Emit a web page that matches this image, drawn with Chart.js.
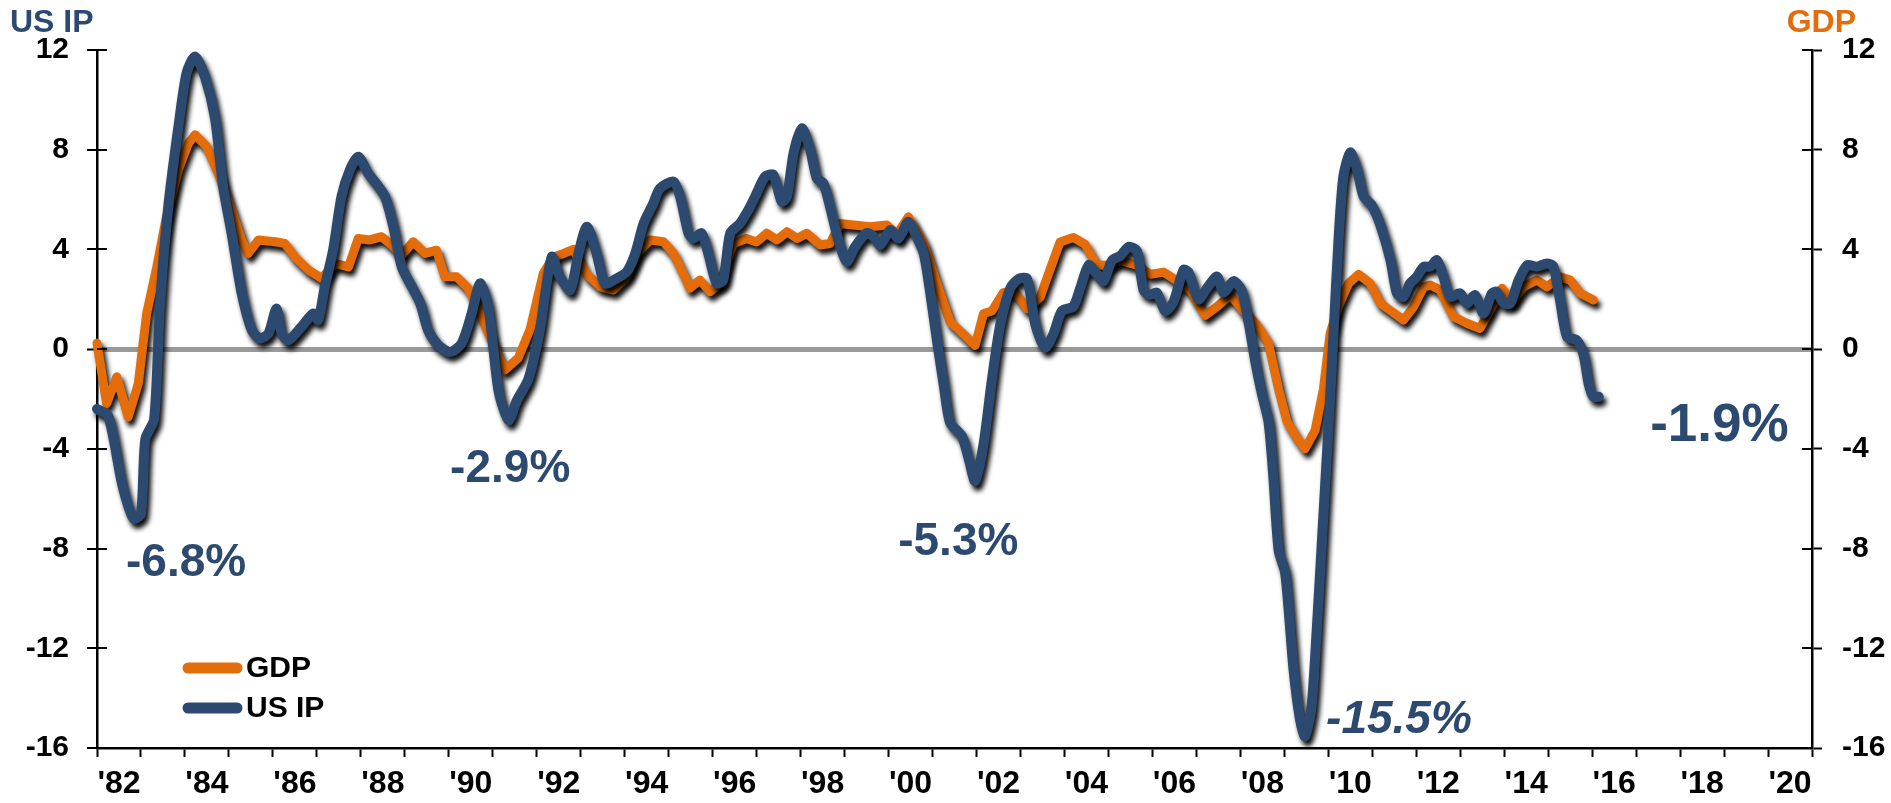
<!DOCTYPE html>
<html>
<head>
<meta charset="utf-8">
<script src="https://cdn.jsdelivr.net/npm/chart.js@4.4.1/dist/chart.umd.min.js"></script>
<style>
  html, body { margin: 0; padding: 0; background: #fff; }
  canvas { display: block; }
</style>
</head>
<body>
<canvas id="chart" width="1891" height="803"></canvas>
<script>
// US industrial production, y/y %
const ipYears = [
  1982.00, 1982.26, 1982.57, 1982.83, 1983.00, 1983.10, 1983.30, 1983.43, 1983.62, 1983.85,
  1984.04, 1984.23, 1984.46, 1984.68, 1984.87, 1985.06, 1985.29, 1985.52, 1985.71, 1985.90,
  1986.08, 1986.20, 1986.35, 1986.65, 1986.92, 1987.03, 1987.18, 1987.37, 1987.56, 1987.75,
  1987.94, 1988.17, 1988.40, 1988.55, 1988.74, 1988.93, 1989.16, 1989.35, 1989.53, 1989.76,
  1990.03, 1990.29, 1990.52, 1990.71, 1990.90, 1991.13, 1991.36, 1991.55, 1991.81, 1992.07,
  1992.34, 1992.53, 1992.76, 1992.95, 1993.14, 1993.36, 1993.55, 1993.82, 1994.05, 1994.24,
  1994.43, 1994.65, 1994.80, 1995.11, 1995.26, 1995.45, 1995.56, 1995.75, 1995.90, 1996.09,
  1996.24, 1996.40, 1996.62, 1996.85, 1997.00, 1997.19, 1997.38, 1997.57, 1997.69, 1997.84,
  1998.03, 1998.22, 1998.37, 1998.52, 1998.67, 1998.86, 1999.05, 1999.24, 1999.50, 1999.66,
  1999.81, 2000.04, 2000.23, 2000.45, 2000.64, 2000.80, 2000.95, 2001.10, 2001.25, 2001.40,
  2001.67, 2001.82, 2001.97, 2002.16, 2002.35, 2002.54, 2002.77, 2002.96, 2003.15, 2003.34,
  2003.56, 2003.75, 2003.94, 2004.20, 2004.36, 2004.55, 2004.74, 2004.89, 2005.08, 2005.27,
  2005.46, 2005.65, 2005.80, 2005.95, 2006.10, 2006.29, 2006.48, 2006.71, 2006.82, 2007.05,
  2007.24, 2007.47, 2007.62, 2007.84, 2008.03, 2008.18, 2008.34, 2008.49, 2008.64, 2008.75,
  2008.87, 2009.02, 2009.21, 2009.36, 2009.47, 2009.62, 2009.74, 2009.85, 2010.00, 2010.12,
  2010.23, 2010.34, 2010.50, 2010.65, 2010.80, 2010.99, 2011.18, 2011.41, 2011.56, 2011.71,
  2011.86, 2012.01, 2012.17, 2012.32, 2012.47, 2012.62, 2012.77, 2013.00, 2013.15, 2013.34,
  2013.53, 2013.72, 2013.83, 2013.99, 2014.14, 2014.33, 2014.52, 2014.74, 2014.97, 2015.12,
  2015.27, 2015.43, 2015.65, 2015.80, 2015.92, 2016.03, 2016.15
];
const ipValues = [
  -2.4, -2.7, -5.4, -6.8, -6.6, -3.6, -2.8, 1.7, 5.7, 8.9,
  11.1, 11.74, 10.9, 9.3, 6.5, 4.65, 2.24, 0.76, 0.43, 0.63,
  1.63, 0.63, 0.36, 0.9, 1.43, 1.17, 2.5, 3.98, 6.12, 7.19,
  7.72, 7.05, 6.52, 6.12, 4.91, 3.3, 2.5, 1.84, 0.76, 0.16,
  -0.11, 0.23, 1.43, 2.64, 1.7, -1.65, -2.85, -2.05, -1.2, 0.76,
  3.7, 2.9, 2.37, 3.84, 4.91, 3.84, 2.64, 2.84, 3.11, 3.84,
  5.04, 5.85, 6.45, 6.72, 6.12, 4.65, 4.44, 4.65, 3.84, 2.64,
  2.77, 4.65, 5.04, 5.71, 6.25, 6.92, 6.99, 5.92, 6.12, 7.86,
  8.86, 7.99, 6.85, 6.65, 5.71, 4.38, 3.51, 4.11, 4.65, 4.51,
  4.18, 4.78, 4.44, 5.11, 4.51, 3.84, 2.24, 0.36, -1.38, -2.95,
  -3.5, -4.37, -5.29, -3.82, -1.24, 0.98, 2.45, 2.82, 2.82, 0.98,
  0.06, 0.61, 1.53, 1.71, 2.45, 3.37, 3.0, 2.73, 3.56, 3.74,
  4.11, 3.93, 2.36, 2.18, 2.27, 1.53, 1.9, 3.18, 3.09, 2.0,
  2.45, 2.91, 2.27, 2.73, 2.36, 1.16, -0.5, -1.79, -2.9, -5.11,
  -8.06, -8.98, -12.85, -14.88, -15.53, -14.33, -11.19, -7.87, -3.26, 0.61,
  4.3, 6.88, 7.89, 7.24, 6.14, 5.77, 5.0, 3.6, 2.24, 2.1,
  2.64, 2.9, 3.31, 3.31, 3.57, 2.9, 2.1, 2.24, 1.84, 2.17,
  1.43, 2.24, 2.3, 1.84, 1.84, 2.77, 3.37, 3.31, 3.44, 3.31,
  1.97, 0.49, 0.36, -0.18, -1.38, -1.91, -1.91
];

// US GDP, y/y %
const gdpYears = [
  1982.00, 1982.22, 1982.45, 1982.71, 1982.94, 1983.13, 1983.36, 1983.58, 1983.85, 1984.08,
  1984.23, 1984.49, 1984.76, 1985.06, 1985.29, 1985.44, 1985.67, 1986.05, 1986.27, 1986.50,
  1986.81, 1987.11, 1987.41, 1987.72, 1987.94, 1988.20, 1988.47, 1988.70, 1988.93, 1989.19,
  1989.46, 1989.72, 1989.91, 1990.18, 1990.44, 1990.67, 1990.97, 1991.27, 1991.58, 1991.85,
  1992.05, 1992.15, 1992.38, 1992.61, 1992.83, 1993.14, 1993.45, 1993.74, 1994.05, 1994.28,
  1994.58, 1994.88, 1995.11, 1995.33, 1995.48, 1995.71, 1995.94, 1996.17, 1996.47, 1996.77,
  1997.00, 1997.23, 1997.46, 1997.69, 1997.92, 1998.14, 1998.44, 1998.67, 1998.90, 1999.20,
  1999.58, 1999.96, 2000.19, 2000.45, 2000.80, 2001.10, 2001.40, 2001.70, 2001.97, 2002.16,
  2002.35, 2002.61, 2002.84, 2003.15, 2003.45, 2003.67, 2003.90, 2004.20, 2004.47, 2004.74,
  2004.96, 2005.27, 2005.65, 2005.95, 2006.25, 2006.56, 2006.86, 2007.20, 2007.47, 2007.77,
  2008.07, 2008.37, 2008.64, 2008.87, 2009.06, 2009.28, 2009.47, 2009.70, 2009.89, 2010.04,
  2010.23, 2010.46, 2010.69, 2010.95, 2011.18, 2011.41, 2011.71, 2011.94, 2012.17, 2012.32,
  2012.54, 2012.85, 2013.15, 2013.45, 2013.68, 2013.95, 2014.18, 2014.44, 2014.74, 2014.97,
  2015.27, 2015.50, 2015.73, 2016.03
];
const gdpValues = [
  0.24, -2.18, -1.11, -2.72, -1.38, 1.43, 3.3, 5.31, 7.19, 8.26,
  8.6, 8.13, 7.05, 5.58, 4.38, 3.84, 4.38, 4.31, 4.24, 3.7,
  3.17, 2.84, 3.44, 3.3, 4.44, 4.38, 4.51, 4.18, 3.77, 4.31,
  3.84, 3.97, 2.9, 2.9, 2.44, 1.57, 0.36, -0.84, -0.35, 0.8,
  2.3, 3.04, 3.7, 3.84, 4.0, 3.0, 2.5, 2.37, 2.9, 3.84,
  4.38, 4.31, 3.84, 3.04, 2.44, 2.77, 2.3, 2.64, 4.24, 4.44,
  4.3, 4.65, 4.38, 4.71, 4.44, 4.65, 4.18, 4.24, 5.04, 4.98,
  4.91, 4.98, 4.58, 5.31, 4.24, 2.64, 1.1, 0.61, 0.15, 1.43,
  1.53, 2.27, 2.36, 1.62, 2.09, 3.18, 4.3, 4.48, 4.2, 3.37,
  3.37, 3.56, 3.37, 3.0, 3.09, 2.73, 2.36, 1.35, 1.71, 2.18,
  1.53, 0.98, 0.24, -1.6, -2.9, -3.54, -4.0, -3.26, -1.6, 0.61,
  1.71, 2.64, 3.0, 2.64, 1.85, 1.55, 1.17, 1.7, 2.5, 2.57,
  2.37, 1.3, 1.04, 0.83, 1.57, 2.44, 1.9, 2.5, 2.77, 2.5,
  2.9, 2.77, 2.24, 1.97
];

const yearTicks = [];
for (let y = 1982; y <= 2021; y++) yearTicks.push(y);
const labelYears = [1982, 1984, 1986, 1988, 1990, 1992, 1994, 1996, 1998, 2000,
  2002, 2004, 2006, 2008, 2010, 2012, 2014, 2016, 2018, 2020];
const yearLabels = ["'82", "'84", "'86", "'88", "'90", "'92", "'94", "'96", "'98", "'00",
  "'02", "'04", "'06", "'08", "'10", "'12", "'14", "'16", "'18", "'20"];
const valueTicks = [-16, -12, -8, -4, 0, 4, 8, 12];

// callouts: text, left edge (year), baseline (value)
const calloutText = ['-6.8%', '-2.9%', '-5.3%', '-15.5%', '-1.9%'];
const calloutYear = [1982.66, 1990.03, 2000.22, 2009.95, 2017.32];
const calloutValue = [-9.12, -5.34, -8.27, -15.38, -3.69];

const NAVY = '#2C4A6F';
const ORANGE = '#E46C0A';
const FONT = '"Liberation Sans", Arial, sans-serif';

function toPoints(xs, ys) {
  return xs.map((x, i) => ({ x: x, y: ys[i] }));
}

// black drop shadow under the lines
const shadowPlugin = {
  id: 'shadow',
  beforeDatasetDraw(chart) {
    const ctx = chart.ctx;
    ctx.save();
    ctx.shadowColor = 'rgba(0,0,0,0.95)';
    ctx.shadowBlur = 5;
    ctx.shadowOffsetX = 3;
    ctx.shadowOffsetY = 5;
  },
  afterDatasetDraw(chart) {
    chart.ctx.restore();
  }
};

// value-axis ticks also poke into the plot a little
const innerTicks = {
  id: 'innerTicks',
  afterDraw(chart) {
    const ctx = chart.ctx;
    const ys = chart.scales.y;
    const area = chart.chartArea;
    ctx.save();
    ctx.strokeStyle = '#000';
    ctx.lineWidth = 2;
    valueTicks.forEach(v => {
      if (v === -16) return;
      const py = Math.round(ys.getPixelForValue(v));
      ctx.beginPath();
      ctx.moveTo(area.left, py);
      ctx.lineTo(area.left + 10, py);
      ctx.moveTo(area.right - 10, py);
      ctx.lineTo(area.right, py);
      ctx.stroke();
    });
    ctx.restore();
  }
};

const textPlugin = {
  id: 'texts',
  afterDraw(chart) {
    const ctx = chart.ctx;
    const xs = chart.scales.x, ys = chart.scales.y;
    ctx.save();
    // axis titles
    ctx.textBaseline = 'alphabetic';
    ctx.font = 'bold 32px ' + FONT;
    ctx.fillStyle = NAVY;
    ctx.textAlign = 'left';
    ctx.fillText('US IP', 10, 32);
    ctx.fillStyle = ORANGE;
    ctx.textAlign = 'right';
    ctx.fillText('GDP', 1856, 32);

    // callouts
    ctx.fillStyle = NAVY;
    ctx.textAlign = 'left';
    calloutText.forEach((t, i) => {
      const size = t === '-1.9%' ? 53 : 46;
      const style = t === '-15.5%' ? 'italic bold ' : 'bold ';
      ctx.font = style + size + 'px ' + FONT;
      ctx.fillText(t, xs.getPixelForValue(calloutYear[i]), ys.getPixelForValue(calloutValue[i]));
    });

    // legend
    const area = chart.chartArea;
    const items = [chart.data.datasets[1], chart.data.datasets[0]];
    ctx.font = 'bold 30px ' + FONT;
    ctx.textBaseline = 'middle';
    items.forEach((ds, i) => {
      const y = area.bottom - 80 + i * 40;
      ctx.strokeStyle = ds.borderColor;
      ctx.lineWidth = 11;
      ctx.lineCap = 'round';
      ctx.beginPath();
      ctx.moveTo(area.left + 91, y);
      ctx.lineTo(area.left + 140, y);
      ctx.stroke();
      ctx.fillStyle = '#000';
      ctx.fillText(ds.label, area.left + 149, y + 1);
    });
    ctx.restore();
  }
};

const tickFont = { family: FONT, size: 30, weight: 'bold' };

new Chart(document.getElementById('chart'), {
  type: 'line',
  data: {
    datasets: [
      {
        label: 'US IP',
        data: toPoints(ipYears, ipValues),
        borderColor: NAVY,
        borderWidth: 10,
        tension: 0.25,
        yAxisID: 'y',
        order: 0
      },
      {
        label: 'GDP',
        data: toPoints(gdpYears, gdpValues),
        borderColor: ORANGE,
        borderWidth: 9,
        tension: 0,
        yAxisID: 'y2',
        order: 1
      }
    ]
  },
  options: {
    responsive: false,
    animation: false,
    devicePixelRatio: 1,
    clip: false,
    layout: { padding: { top: 50, left: 0, right: 0, bottom: 0 } },
    elements: {
      point: { radius: 0 },
      line: { borderCapStyle: 'round', borderJoinStyle: 'round', fill: false }
    },
    plugins: {
      legend: { display: false },
      tooltip: { enabled: false }
    },
    scales: {
      x: {
        type: 'linear',
        min: 1982,
        max: 2021,
        afterBuildTicks: (s) => { s.ticks = yearTicks.map(v => ({ value: v })); },
        afterFit: (s) => { s.height = 55; },
        border: { display: true, color: '#000', width: 2.5 },
        grid: { drawOnChartArea: false, drawTicks: true, tickLength: 9, tickColor: '#000', tickWidth: 2 },
        ticks: {
          autoSkip: false,
          maxRotation: 0,
          labelOffset: 22,
          padding: 8,
          color: '#000',
          font: { family: FONT, size: 32, weight: 'bold' },
          callback: (v) => {
            const i = labelYears.indexOf(v);
            return i >= 0 ? yearLabels[i] : '';
          }
        }
      },
      y: {
        position: 'left',
        min: -16,
        max: 12,
        afterBuildTicks: (s) => { s.ticks = valueTicks.map(v => ({ value: v })); },
        afterFit: (s) => { s.width = 97; },
        border: { display: true, color: '#000', width: 2.5 },
        grid: {
          drawOnChartArea: true,
          color: (c) => (c.tick && c.tick.value === 0 ? '#999999' : 'rgba(0,0,0,0)'),
          lineWidth: (c) => (c.tick && c.tick.value === 0 ? 5 : 0),
          tickLength: 10,
          tickColor: '#000',
          tickWidth: 2
        },
        ticks: { padding: 18, color: '#000', font: tickFont }
      },
      y2: {
        position: 'right',
        min: -16,
        max: 12,
        afterBuildTicks: (s) => { s.ticks = valueTicks.map(v => ({ value: v })); },
        afterFit: (s) => { s.width = 79; },
        border: { display: true, color: '#000', width: 2.5 },
        grid: { drawOnChartArea: false, tickLength: 10, tickColor: '#000', tickWidth: 2 },
        ticks: { padding: 20, color: '#000', font: tickFont }
      }
    }
  },
  plugins: [shadowPlugin, innerTicks, textPlugin]
});
</script>
</body>
</html>
